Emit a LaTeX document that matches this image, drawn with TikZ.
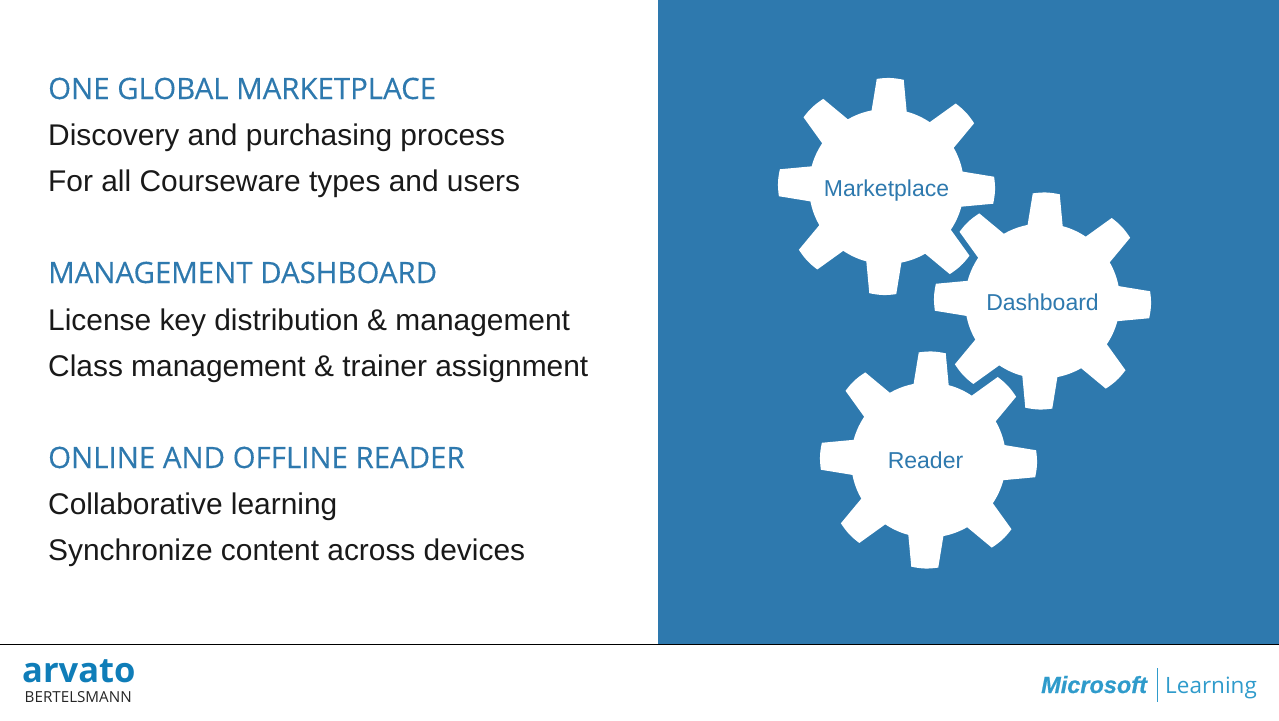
\documentclass[tikz,border=0pt]{standalone}
\usepackage{fontspec}
\usepackage{xcolor}
\setmainfont{Liberation Sans}
\newfontfamily\headfont{Open Sans}
\newfontfamily\headboldfont[FakeBold=0.25]{Open Sans}
\newfontfamily\msoftfont[FakeBold=0.6]{Liberation Sans Bold Italic}
\definecolor{panelblue}{HTML}{2E79AE}
\definecolor{logoblue}{HTML}{0F7DB8}
\definecolor{softblue}{HTML}{2F9BCB}
\newcommand{\gearwheel}[2]{
\fill [white] (#1,#2) circle (77.5);
\foreach \a in {0,45,...,315} {
\fill [white, shift={(#1,#2)}, rotate=\a-2]
  (-18,72) -- (-13.5,107.2) to [bend left=10] (13.5,107.2) -- (18,72) -- cycle;
}
}
\tikzset{
headline/.style={anchor=base west, inner sep=0pt, font=\headboldfont\fontsize{29.4}{29.4}\selectfont, text=panelblue},
bodyline/.style={anchor=base west, inner sep=0pt, font=\fontsize{29.9}{29.9}\selectfont, text=black!90},
gearlabel/.style={anchor=base, inner sep=0pt, font=\fontsize{23}{23}\selectfont, text=panelblue}
}
\begin{document}
\begin{tikzpicture}[x=1pt,y=1pt]
\useasboundingbox (0,-720) rectangle (1279,0);
\fill [panelblue] (658,-644) rectangle (1279,0);
\draw [black, line width=0.8] (0,-644.5) -- (1279,-644.5);
% left column
\node [headline] (head1) at (48,-99) {ONE GLOBAL MARKETPLACE};
\node [bodyline] (body1a) at (48,-145) {Discovery and purchasing process};
\node [bodyline] (body1b) at (48,-191) {For all Courseware types and users};
\node [headline] (head2) at (48,-283) {MANAGEMENT DASHBOARD};
\node [bodyline] (body2a) at (48,-330) {License key distribution \& management};
\node [bodyline] (body2b) at (48,-376) {Class management \& trainer assignment};
\node [headline] (head3) at (48,-468) {ONLINE AND OFFLINE READER};
\node [bodyline] (body3a) at (48,-514) {Collaborative learning};
\node [bodyline] (body3b) at (48,-560) {Synchronize content across devices};
% gears
\gearwheel{886.5}{-186.5}
\gearwheel{1042.5}{-301}
\gearwheel{928.5}{-460}
\node [gearlabel] (market) at (886.5,-196) {Marketplace};
\node [gearlabel] (dash) at (1042.5,-310) {Dashboard};
\node [gearlabel] (reader) at (925.5,-468.5) {Reader};
% logos
\node [anchor=base west, inner sep=0pt, font=\headfont\bfseries\fontsize{34.5}{34.5}\selectfont, text=logoblue] (arvato) at (22,-682) {arvato};
\node [anchor=base west, inner sep=0pt, font=\headfont\fontsize{15.2}{15.2}\selectfont, text=black!85] (bertels) at (24.5,-702) {BERTELSMANN};
\node [anchor=base west, inner sep=0pt, font=\msoftfont\fontsize{23.5}{23.5}\selectfont, text=softblue] (msoft) at (1041,-693) {Microsoft};
\node [anchor=base west, inner sep=0pt, font=\headfont\fontsize{22.5}{22.5}\selectfont, text=softblue] (learn) at (1165,-693) {Learning};
\draw [softblue, line width=1] (1157,-668) -- (1157,-702);
\end{tikzpicture}
\end{document}
